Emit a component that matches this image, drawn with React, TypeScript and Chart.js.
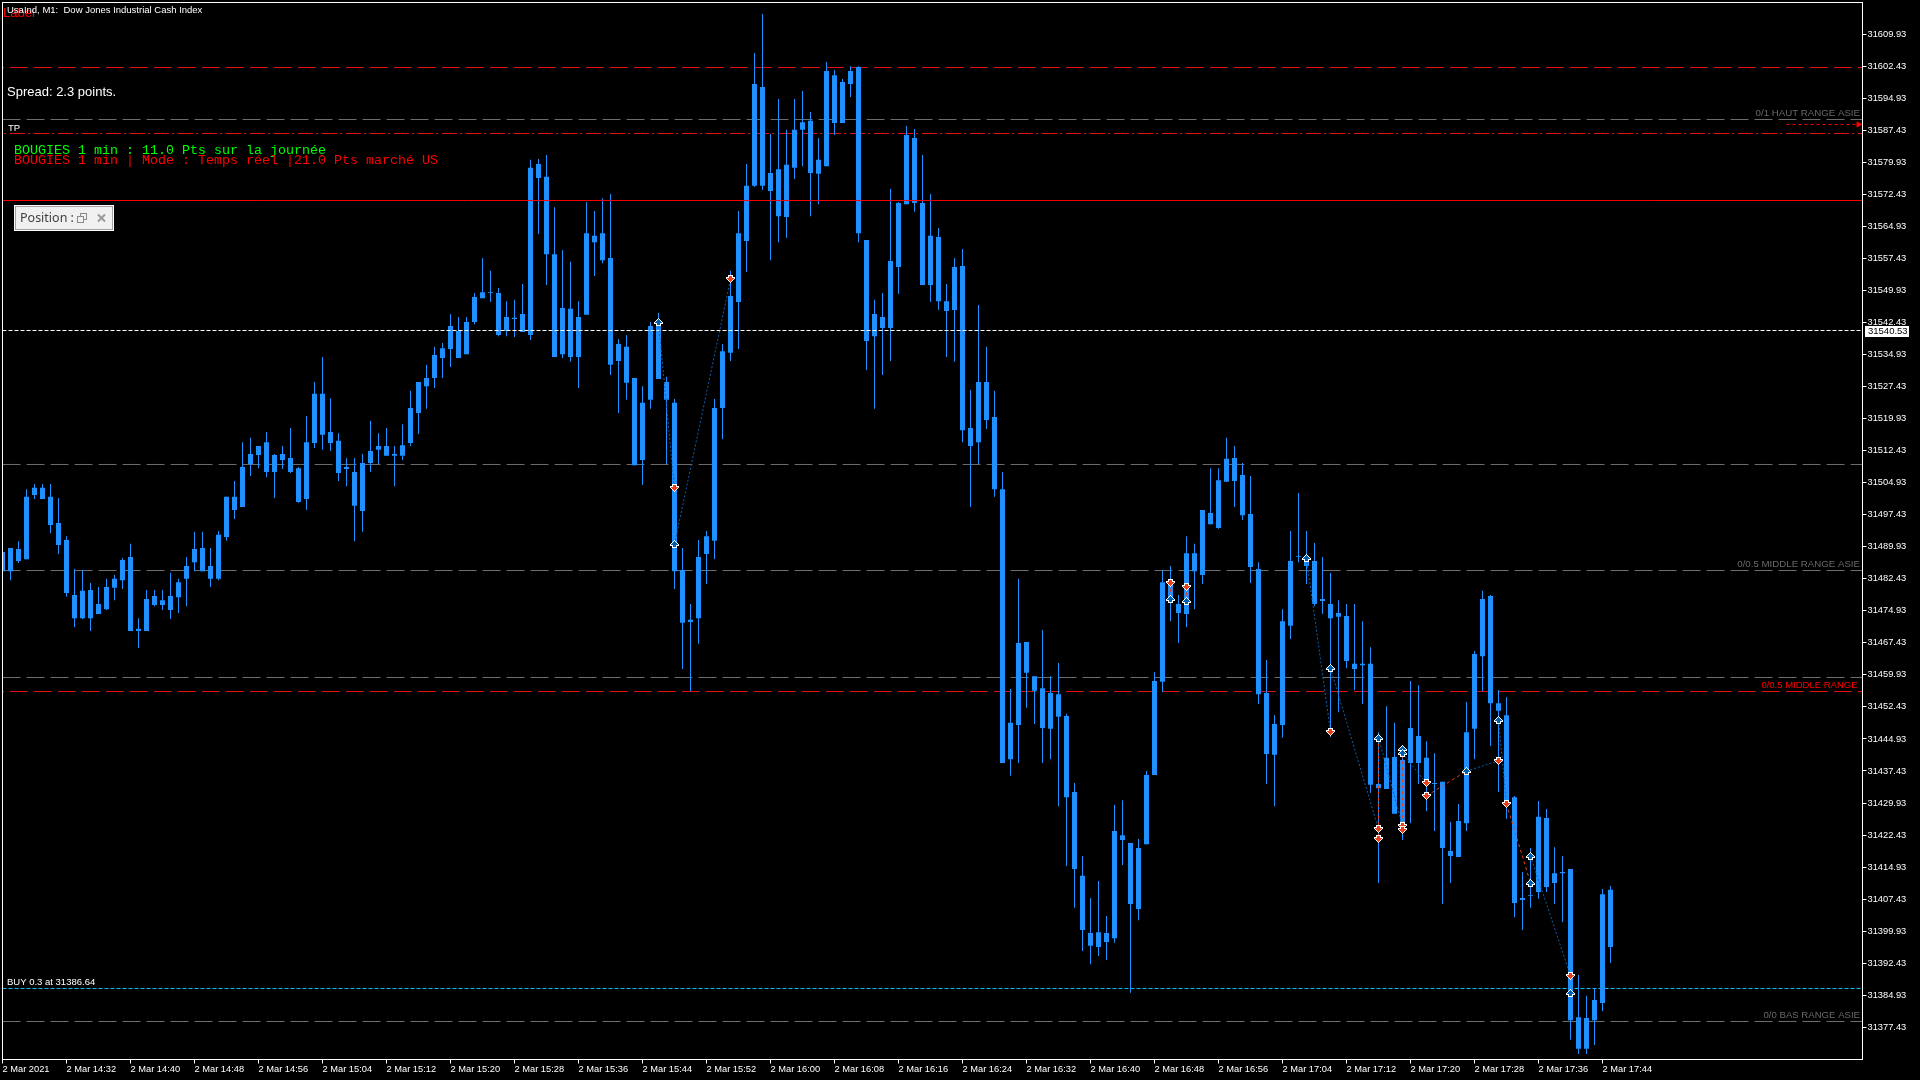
import {useEffect, useRef} from "react";

import {Chart, registerables} from "chart.js";

Chart.register(...registerables);

// Candle values of UsaInd M1, one entry per minute starting at 14:24
const bodyTops = [
  31488.7, 31489.6, 31489.4, 31501.6, 31503.7, 31503.7, 31501.6, 31495.5, 31491.5, 31478.6,
  31479.6, 31479.8, 31476.5, 31480.5, 31482.4, 31486.8, 31487.5, 31470.7, 31477.7, 31478.4,
  31477.4, 31478.4, 31481.6, 31485.4, 31489.4, 31489.6, 31485.4, 31492.7, 31501.6, 31501.6,
  31508.6, 31511.6, 31513.5, 31514.4, 31511.4, 31511.6, 31510.7, 31508.3, 31514.4, 31525.7,
  31525.7, 31516.8, 31514.7, 31508.6, 31507.4, 31509.5, 31512.3, 31513.5, 31513.5, 31511.6,
  31513.7, 31522.4, 31528.5, 31529.4, 31534.8, 31536.4, 31541.6, 31540.4, 31542.5, 31548.4,
  31549.5, 31549.5, 31549.3, 31543.7, 31543.5, 31544.4, 31578.6, 31579.5, 31576.5, 31558.4,
  31545.8, 31545.6, 31543.7, 31563.3, 31562.7, 31563.3, 31557.5, 31537.4, 31536.7, 31529.4,
  31523.6, 31541.6, 31541.6, 31528.5, 31523.6, 31484.5, 31472.8, 31487.5, 31492.4, 31522.4,
  31535.7, 31548.6, 31563.3, 31574.4, 31598.2, 31597.5, 31577.4, 31578.3, 31579.3, 31587.5,
  31589.3, 31589.6, 31580.5, 31601.3, 31600.3, 31598.7, 31601.3, 31602.2, 31561.7, 31544.4,
  31543.7, 31556.8, 31570.4, 31586.3, 31585.6, 31570.4, 31562.7, 31562.4, 31547.4, 31555.4,
  31555.6, 31517.7, 31528.5, 31528.5, 31520.3, 31503.4, 31448.7, 31467.4, 31467.6, 31459.6,
  31456.8, 31455.7, 31455.4, 31450.3, 31432.5, 31412.9, 31399.5, 31399.7, 31399.5, 31423.4,
  31422.4, 31420.6, 31419.4, 31436.5, 31458.5, 31481.6, 31481.4, 31476.5, 31488.4, 31488.4,
  31498.5, 31497.8, 31505.5, 31510.5, 31510.7, 31506.7, 31497.6, 31484.7, 31455.7, 31448.4,
  31472.5, 31486.6, 31487.7, 31487.3, 31486.6, 31477.7, 31476.5, 31474.4, 31473.7, 31462.5,
  31462.5, 31462.5, 31434.4, 31440.5, 31440.7, 31440.0, 31447.5, 31445.6, 31440.5, 31434.6,
  31434.9, 31418.7, 31425.7, 31446.5, 31464.8, 31477.7, 31478.4, 31453.3, 31450.5, 31431.3,
  31407.7, 31408.4, 31426.7, 31426.4, 31413.5, 31413.8, 31414.5, 31379.8, 31379.6, 31383.8,
  31408.6, 31409.6,
];
const bodyBottoms = [
  31484.2, 31484.2, 31486.6, 31487.0, 31502.0, 31501.1, 31495.0, 31490.3, 31479.1, 31473.2,
  31473.2, 31473.2, 31474.2, 31475.3, 31480.3, 31482.1, 31470.2, 31470.2, 31470.2, 31476.3,
  31476.3, 31475.1, 31478.1, 31482.4, 31486.3, 31484.2, 31482.4, 31482.4, 31492.2, 31498.5,
  31499.2, 31509.3, 31511.4, 31507.4, 31507.4, 31510.2, 31507.4, 31500.4, 31501.1, 31514.2,
  31516.1, 31514.2, 31507.2, 31508.1, 31499.5, 31498.3, 31509.5, 31512.6, 31511.2, 31511.2,
  31511.2, 31514.2, 31521.2, 31527.5, 31529.4, 31534.1, 31536.2, 31534.1, 31535.0, 31542.5,
  31548.1, 31549.3, 31539.5, 31540.4, 31543.2, 31540.2, 31539.5, 31576.2, 31558.4, 31534.3,
  31535.0, 31534.3, 31534.3, 31544.2, 31561.2, 31557.0, 31532.5, 31533.4, 31528.3, 31509.0,
  31510.2, 31524.3, 31529.2, 31524.3, 31484.2, 31472.1, 31472.3, 31473.2, 31488.2, 31491.3,
  31522.4, 31535.3, 31547.2, 31561.5, 31574.4, 31574.4, 31573.2, 31567.3, 31567.1, 31578.6,
  31587.5, 31577.4, 31577.2, 31579.0, 31589.1, 31589.1, 31598.2, 31563.3, 31538.1, 31539.2,
  31541.1, 31541.1, 31555.4, 31570.1, 31570.4, 31551.2, 31551.2, 31547.4, 31545.1, 31545.3,
  31517.2, 31513.5, 31514.4, 31519.6, 31503.4, 31439.3, 31440.2, 31448.2, 31460.4, 31456.2,
  31447.5, 31447.3, 31450.1, 31431.3, 31414.5, 31400.2, 31396.5, 31396.2, 31397.4, 31398.3,
  31421.3, 31406.3, 31405.1, 31420.3, 31436.5, 31458.3, 31477.7, 31474.4, 31474.2, 31484.2,
  31483.3, 31495.2, 31494.3, 31505.1, 31505.3, 31497.3, 31485.2, 31455.4, 31441.4, 31441.2,
  31448.2, 31471.4, 31487.5, 31485.4, 31476.5, 31477.2, 31473.2, 31473.5, 31463.2, 31461.3,
  31462.2, 31434.2, 31433.4, 31433.2, 31427.4, 31425.2, 31439.3, 31439.3, 31434.4, 31434.4,
  31419.4, 31417.5, 31417.3, 31425.2, 31447.3, 31464.3, 31453.3, 31451.5, 31430.2, 31406.5,
  31407.2, 31408.2, 31409.1, 31410.3, 31411.2, 31413.5, 31379.1, 31372.4, 31372.4, 31379.1,
  31383.1, 31396.2,
];
const wickHighs = [
  31488.7, 31489.6, 31491.2, 31503.4, 31504.6, 31504.6, 31504.6, 31501.3, 31492.4, 31484.7,
  31484.5, 31481.4, 31480.5, 31482.4, 31483.3, 31487.3, 31490.6, 31473.2, 31479.8, 31479.8,
  31479.8, 31483.8, 31482.4, 31487.5, 31493.4, 31493.4, 31489.6, 31493.6, 31501.6, 31505.3,
  31514.4, 31515.4, 31513.5, 31516.8, 31511.6, 31513.5, 31517.7, 31508.6, 31520.5, 31528.5,
  31534.3, 31524.7, 31516.5, 31510.7, 31510.7, 31511.6, 31519.4, 31516.5, 31517.7, 31513.5,
  31518.6, 31526.4, 31528.5, 31532.5, 31536.7, 31537.6, 31544.4, 31543.7, 31543.7, 31549.3,
  31557.5, 31554.5, 31550.5, 31547.4, 31547.7, 31551.4, 31580.5, 31580.7, 31581.6, 31569.4,
  31559.4, 31556.6, 31547.4, 31570.6, 31568.5, 31571.5, 31572.5, 31538.5, 31539.5, 31529.4,
  31527.5, 31542.5, 31544.6, 31529.7, 31524.5, 31489.6, 31476.5, 31491.5, 31493.6, 31524.5,
  31537.4, 31554.5, 31568.5, 31579.5, 31605.5, 31614.6, 31586.5, 31594.7, 31587.5, 31594.7,
  31596.6, 31591.7, 31585.6, 31603.4, 31601.5, 31599.4, 31602.4, 31602.4, 31561.7, 31547.7,
  31549.3, 31573.7, 31570.6, 31588.4, 31587.7, 31581.6, 31572.5, 31564.5, 31551.4, 31557.5,
  31559.6, 31526.6, 31546.5, 31536.7, 31526.4, 31507.4, 31456.6, 31482.4, 31467.6, 31459.6,
  31470.4, 31459.6, 31462.7, 31450.8, 31434.6, 31417.5, 31407.7, 31411.7, 31403.5, 31429.5,
  31430.6, 31420.6, 31421.5, 31437.4, 31460.6, 31484.5, 31485.4, 31478.6, 31492.4, 31490.6,
  31498.5, 31508.3, 31508.3, 31515.4, 31513.5, 31509.5, 31506.5, 31486.3, 31463.4, 31450.5,
  31475.3, 31493.6, 31502.5, 31493.6, 31490.8, 31487.5, 31483.8, 31477.4, 31476.5, 31476.5,
  31472.5, 31466.4, 31446.5, 31452.6, 31448.7, 31443.5, 31458.5, 31457.5, 31444.4, 31441.6,
  31434.9, 31425.5, 31429.7, 31453.6, 31465.5, 31479.6, 31478.6, 31456.4, 31454.7, 31431.6,
  31413.8, 31419.4, 31430.4, 31428.5, 31419.6, 31417.5, 31414.5, 31389.7, 31384.8, 31386.6,
  31409.8, 31410.5,
];
const wickLows = [
  31484.2, 31482.1, 31486.1, 31487.0, 31501.1, 31501.1, 31493.1, 31488.2, 31478.2, 31471.1,
  31473.0, 31470.2, 31474.2, 31475.1, 31477.4, 31480.0, 31470.2, 31466.2, 31470.2, 31476.0,
  31475.1, 31473.0, 31474.4, 31476.0, 31484.2, 31484.2, 31480.5, 31482.1, 31491.3, 31496.4,
  31499.2, 31506.5, 31508.3, 31506.2, 31501.3, 31508.1, 31507.2, 31500.2, 31498.5, 31513.0,
  31512.6, 31512.3, 31505.3, 31504.1, 31491.2, 31493.4, 31507.4, 31509.3, 31511.2, 31504.1,
  31510.2, 31513.5, 31516.3, 31522.2, 31527.1, 31529.4, 31532.0, 31534.1, 31535.0, 31542.0,
  31548.1, 31547.2, 31539.2, 31539.2, 31539.0, 31540.2, 31538.3, 31563.1, 31551.2, 31534.3,
  31534.1, 31533.2, 31527.1, 31544.2, 31553.3, 31556.3, 31530.1, 31521.2, 31524.3, 31509.0,
  31504.4, 31522.2, 31529.2, 31509.3, 31480.0, 31461.3, 31456.1, 31467.2, 31481.2, 31487.0,
  31515.1, 31533.4, 31536.2, 31554.2, 31574.1, 31573.4, 31557.0, 31561.2, 31562.2, 31576.0,
  31579.0, 31567.3, 31570.1, 31579.0, 31586.3, 31589.1, 31595.2, 31561.2, 31531.3, 31522.2,
  31530.1, 31533.4, 31549.1, 31570.1, 31568.3, 31551.2, 31547.2, 31545.3, 31534.3, 31533.2,
  31514.4, 31499.2, 31509.3, 31517.5, 31501.6, 31439.3, 31436.3, 31439.3, 31452.2, 31448.4,
  31439.3, 31440.2, 31429.2, 31415.2, 31405.4, 31395.3, 31392.2, 31394.1, 31393.2, 31397.2,
  31415.4, 31385.5, 31402.5, 31420.3, 31436.5, 31455.9, 31472.5, 31467.4, 31471.1, 31475.3,
  31481.2, 31495.2, 31494.1, 31505.1, 31499.2, 31496.2, 31481.4, 31453.1, 31434.4, 31429.2,
  31445.2, 31468.3, 31486.3, 31481.2, 31476.0, 31474.2, 31445.4, 31451.2, 31461.5, 31456.4,
  31453.1, 31432.3, 31411.2, 31433.2, 31427.4, 31421.3, 31425.2, 31434.4, 31428.0, 31423.4,
  31406.3, 31411.2, 31417.3, 31423.4, 31440.2, 31456.1, 31443.3, 31432.5, 31426.2, 31403.2,
  31400.2, 31405.4, 31407.5, 31409.1, 31406.3, 31402.1, 31374.5, 31371.2, 31371.2, 31373.3,
  31381.2, 31392.5,
];

const yTicks = [
  31377.43, 31384.93, 31392.43, 31399.93, 31407.43, 31414.93, 31422.43, 31429.93, 31437.43, 31444.93, 31452.43,
  31459.93, 31467.43, 31474.93, 31482.43, 31489.93, 31497.43, 31504.93, 31512.43, 31519.93, 31527.43, 31534.93,
  31542.43, 31549.93, 31557.43, 31564.93, 31572.43, 31579.93, 31587.43, 31594.93, 31602.43, 31609.93,
];
const timeLabels = [
  "2 Mar 2021", "2 Mar 14:32", "2 Mar 14:40", "2 Mar 14:48", "2 Mar 14:56", "2 Mar 15:04", "2 Mar 15:12",
  "2 Mar 15:20", "2 Mar 15:28", "2 Mar 15:36", "2 Mar 15:44", "2 Mar 15:52", "2 Mar 16:00", "2 Mar 16:08",
  "2 Mar 16:16", "2 Mar 16:24", "2 Mar 16:32", "2 Mar 16:40", "2 Mar 16:48", "2 Mar 16:56", "2 Mar 17:04",
  "2 Mar 17:12", "2 Mar 17:20", "2 Mar 17:28", "2 Mar 17:36", "2 Mar 17:44",
];
const timeTickBars = timeLabels.map((_, i) => i * 8);

const currentPrice = 31540.53;

// Horizontal levels
const rangeLevels = [31589.92, 31509.17, 31484.35, 31459.31, 31378.79];
const redDashLevels = [31602.09, 31456.03];
const takeProfitLevel = 31586.64;
const redSolidLevel = 31570.96;
const buyLevel = 31386.51;
const alertLevel = 31588.75;

// Trade markers: [bar, price]
const buyMarkers = [
  [82, 31542.45], [84, 31490.5], [146, 31477.7], [148, 31477.2], [163, 31487.2], [166, 31461.5], [172, 31445.2],
  [175, 31442.5], [175, 31441.6], [183, 31437.4], [187, 31449.4], [191, 31417.5], [191, 31411.2], [196, 31385.5],
];
const sellMarkers = [
  [84, 31503.6], [91, 31552.5], [146, 31481.5], [148, 31480.6], [166, 31446.6], [172, 31423.8], [172, 31421.4],
  [175, 31424.6], [175, 31423.5], [178, 31434.5], [178, 31431.6], [187, 31439.8], [188, 31429.7], [196, 31389.5],
];
// Dotted links between markers: [bar, price, bar, price]
const blueLinks = [
  [82, 31542.45, 84, 31503.6], [84, 31490.5, 91, 31552.5], [163, 31487.2, 166, 31446.6], [166, 31461.5, 172, 31423.8],
  [172, 31445.2, 175, 31424.6], [175, 31441.6, 178, 31434.5], [183, 31437.4, 187, 31439.8],
  [187, 31449.4, 188, 31429.7], [191, 31417.5, 196, 31389.5],
];
const redLinks = [
  [146, 31481.5, 146, 31477.7], [148, 31480.6, 148, 31477.2], [172, 31445.2, 172, 31421.4], [175, 31442.5, 175, 31423.5],
  [178, 31431.6, 183, 31437.4], [188, 31429.7, 191, 31411.2],
];

const BLUE = "#1e90ff";
const BAR_MAX = 232.5;

const linkData = (links: number[][]) =>
  links.flatMap(([x0, y0, x1, y1]) => [
    {x: x0, y: y0},
    {x: x1, y: y1},
    {x: x1, y: null},
  ]);

const levelDataset = (y: number, color: string, dash: number[], dashOffset: number, order: number) => ({
  type: "line" as const,
  data: [
    {x: 0, y},
    {x: BAR_MAX, y},
  ],
  borderColor: color,
  borderWidth: 1,
  borderDash: dash,
  borderDashOffset: dashOffset,
  pointRadius: 0,
  order,
});

// Small pixel arrow used for trade markers
function makeArrow(fill: string, up: boolean) {
  const rows = [
    "....W....",
    "...WFW...",
    "..WFFFW..",
    ".WFFFFFW.",
    "WFFFFFFFW",
    "WWWFFFWWW",
    "..WFFFW..",
    "..WWWWW..",
  ];
  const canvas = document.createElement("canvas");
  canvas.width = 9;
  canvas.height = 8;
  const ctx = canvas.getContext("2d")!;
  (up ? rows : [...rows].reverse()).forEach((row, y) => {
    [...row].forEach((c, x) => {
      if (c === ".") return;
      ctx.fillStyle = c === "W" ? "#ffffff" : fill;
      ctx.fillRect(x, y, 1, 1);
    });
  });
  return canvas;
}

// Scales must not push the chart area in for their outer tick labels
const clearPadding = (scale: any) => {
  scale.paddingTop = 0;
  scale.paddingBottom = 0;
  scale.paddingLeft = 0;
  scale.paddingRight = 0;
};

const overlayPlugin = {
  id: "overlay",
  beforeDraw(chart: Chart) {
    const ctx = chart.ctx;
    ctx.fillStyle = "#000000";
    ctx.fillRect(0, 0, chart.width, chart.height);
    ctx.imageSmoothingEnabled = false;
  },
  afterDraw(chart: Chart) {
    const ctx = chart.ctx;
    const {left, top, right, bottom} = chart.chartArea;
    ctx.save();

    // chart frame
    ctx.strokeStyle = "#ffffff";
    ctx.lineWidth = 1;
    ctx.strokeRect(left, top, right - left, bottom - top);

    const text = (s: string, x: number, y: number, font: string, color: string, align: CanvasTextAlign = "left") => {
      ctx.font = font;
      ctx.fillStyle = color;
      ctx.textAlign = align;
      ctx.textBaseline = "middle";
      ctx.fillText(s, x, y);
    };
    const small = '9.5px "Liberation Sans"';

    text("Label", 3, 13, '13px "Liberation Sans"', "#ff0000");
    text("UsaInd, M1:  Dow Jones Industrial Cash Index", 7, 10, small, "#ffffff");
    text("Spread: 2.3 points.", 7, 92, '13px "Liberation Sans"', "#ffffff");
    text("TP", 8, 128, small, "#ffffff");
    text("BOUGIES 1 min : 11.0 Pts sur la journée", 14, 150, '13.33px "Liberation Mono"', "#00ff00");
    text("BOUGIES 1 min | Mode : Temps réel |21.0 Pts marché US", 14, 160, '13.33px "Liberation Mono"', "#ff0000");
    text("BUY 0.3 at 31386.64", 7, 982.5, small, "#ffffff");

    text("0/1 HAUT RANGE ASIE", 1860, 113.5, '9.7px "Liberation Sans"', "#696969", "right");
    text("0/0.5 MIDDLE RANGE ASIE", 1860, 564.5, '9.7px "Liberation Sans"', "#696969", "right");
    text("0/0.5 MIDDLE RANGE", 1857.5, 685.5, small, "#ff0000", "right");
    text("0/0 BAS RANGE ASIE", 1860, 1015.5, '9.6px "Liberation Sans"', "#696969", "right");

    // current price box on the axis
    const priceY = chart.scales.y.getPixelForValue(currentPrice);
    ctx.fillStyle = "#ffffff";
    ctx.fillRect(1865, Math.round(priceY) - 5, 44, 11);
    text(currentPrice.toFixed(2), 1868, priceY + 0.5, small, "#000000");

    // "Position" panel
    ctx.fillStyle = "#ffffff";
    ctx.fillRect(14, 205, 100, 26);
    ctx.fillStyle = "#a0a0a0";
    ctx.fillRect(15, 206, 98, 24);
    ctx.fillStyle = "#f0f0f0";
    ctx.fillRect(16, 207, 96, 22);
    text("Position :", 20, 218.5, '12.5px "Noto Sans"', "#404040");
    ctx.fillStyle = "#f0f0f0";
    ctx.fillRect(74, 208, 3, 20);
    ctx.strokeStyle = "#8a8a8a";
    ctx.strokeRect(80.5, 213.5, 6, 6);
    ctx.fillStyle = "#f0f0f0";
    ctx.fillRect(77, 216, 7, 7);
    ctx.strokeRect(77.5, 216.5, 6, 6);
    ctx.strokeStyle = "#9a9a9a";
    ctx.lineWidth = 2;
    ctx.beginPath();
    ctx.moveTo(98, 214.5);
    ctx.lineTo(105, 221.5);
    ctx.moveTo(105, 214.5);
    ctx.lineTo(98, 221.5);
    ctx.stroke();

    ctx.restore();
  },
};

export default function App() {
  const chartRef = useRef<HTMLCanvasElement>(null);

  useEffect(() => {
    if (!chartRef.current) return;

    const upArrow = makeArrow("#0060b0", true);
    const downArrow = makeArrow("#e8401c", false);

    const chart = new Chart(chartRef.current, {
      type: "bar",
      data: {
        datasets: [
          ...rangeLevels.map(y => levelDataset(y, "#6e6e6e", [18, 6], 0, 6)),
          ...redDashLevels.map(y => levelDataset(y, "#e01010", [18, 6], 16.5, 6)),
          levelDataset(takeProfitLevel, "#e01010", [15, 3, 2, 4], 16.5, 6),
          levelDataset(buyLevel, "#00bfff", [4, 2], 0, 6),
          {
            type: "bar",
            data: wickLows.map((low, i) => ({x: i, y: [low, wickHighs[i]]})),
            backgroundColor: BLUE,
            barThickness: 1,
            grouped: false,
            borderWidth: 0,
            inflateAmount: 0,
            order: 5,
          },
          {
            type: "bar",
            data: bodyBottoms.map((low, i) => ({x: i, y: [low, bodyTops[i]]})),
            backgroundColor: BLUE,
            barThickness: 5,
            grouped: false,
            borderWidth: 0,
            inflateAmount: 0,
            order: 4,
          },
          levelDataset(currentPrice, "#ffffff", [4, 2], 0, 3),
          levelDataset(redSolidLevel, "#ff0000", [], 0, 3),
          {
            type: "line",
            data: [
              {x: 223, y: alertLevel},
              {x: 232, y: alertLevel},
            ],
            borderColor: "#ff0000",
            backgroundColor: "#ff0000",
            borderWidth: 1,
            borderDash: [3, 3],
            pointStyle: "triangle",
            pointRotation: 90,
            pointRadius: [0, 3],
            order: 3,
          },
          {
            type: "line",
            data: linkData(blueLinks),
            borderColor: "#0f5fae",
            borderWidth: 1,
            borderDash: [2, 2],
            pointRadius: 0,
            order: 2,
          },
          {
            type: "line",
            data: linkData(redLinks),
            borderColor: "#e0401c",
            borderWidth: 1,
            borderDash: [3, 3],
            pointRadius: 0,
            order: 2,
          },
          {
            type: "line",
            data: buyMarkers.map(([x, y]) => ({x, y})),
            showLine: false,
            pointStyle: upArrow,
            pointRadius: 4,
            order: 1,
          },
          {
            type: "line",
            data: sellMarkers.map(([x, y]) => ({x, y})),
            showLine: false,
            pointStyle: downArrow,
            pointRadius: 4,
            order: 1,
          },
        ] as any,
      },
      options: {
        responsive: false,
        devicePixelRatio: 1,
        animation: false,
        events: [],
        layout: {autoPadding: false, padding: {left: 2.5, top: 2.5, right: 0, bottom: 0}},
        plugins: {
          legend: {display: false},
          tooltip: {enabled: false},
        },
        scales: {
          x: {
            type: "linear",
            offset: false,
            min: 0,
            max: BAR_MAX,
            border: {display: false},
            grid: {offset: false, drawOnChartArea: false, tickLength: 4, tickColor: "#ffffff", tickWidth: 1},
            afterBuildTicks: scale => {
              scale.ticks = timeTickBars.map(value => ({value}));
            },
            afterFit: scale => {
              scale.height = 20.5;
              clearPadding(scale);
            },
            ticks: {
              align: "start",
              autoSkip: false,
              maxRotation: 0,
              minRotation: 0,
              padding: 0,
              color: "#ffffff",
              font: {family: "Liberation Sans", size: 9.3},
              callback: (_value, index) => timeLabels[index],
            },
          },
          y: {
            position: "right",
            min: 31369.895,
            max: 31617.305,
            border: {display: false},
            grid: {drawOnChartArea: false, tickLength: 4, tickColor: "#ffffff", tickWidth: 1},
            afterBuildTicks: scale => {
              scale.ticks = yTicks.map(value => ({value}));
            },
            afterFit: scale => {
              scale.width = 57.5;
              clearPadding(scale);
            },
            ticks: {
              autoSkip: false,
              padding: 1,
              color: "#ffffff",
              font: {family: "Liberation Sans", size: 9.3},
              callback: value => Number(value).toFixed(2),
            },
          },
        },
      },
      plugins: [overlayPlugin],
    });

    return () => {
      chart.destroy();
    };
  }, []);

  return (
    <div style={{position: "fixed", left: 0, top: 0, width: 1920, height: 1080, background: "#000"}}>
      <canvas ref={chartRef} width={1920} height={1080} style={{display: "block"}} />
    </div>
  );
}
